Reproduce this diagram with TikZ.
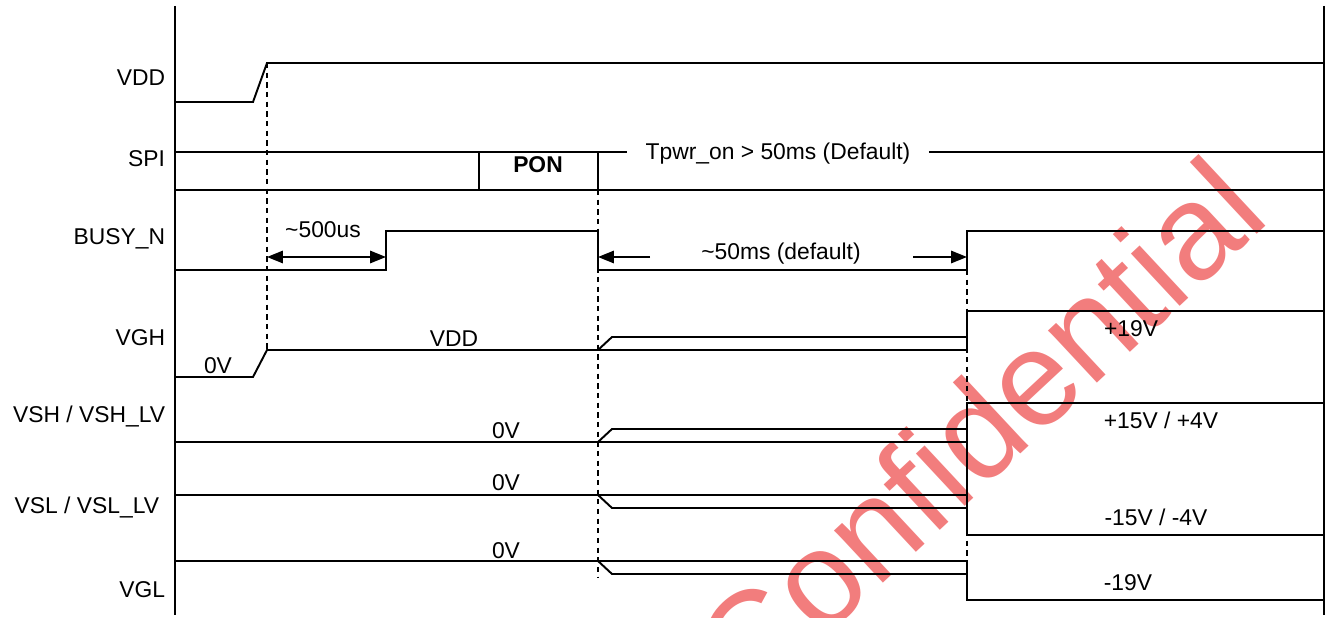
\documentclass[tikz,border=0pt]{standalone}
\usepackage{fontspec}
\setmainfont{Liberation Sans}
\usetikzlibrary{arrows.meta}
\definecolor{wm}{RGB}{242,125,125}
\begin{document}
\begin{tikzpicture}[x=0.02cm,y=-0.02cm, line width=1.1pt, line join=miter,
  dsh/.style={line width=0.9pt, dash pattern=on 3pt off 2.5pt},
  lbl/.style={font=\fontsize{13}{15}\selectfont, inner sep=0pt},
  dimarr/.style={line width=1pt, -{Triangle[length=9pt,width=7pt]}},
  wmtext/.style={font=\fontsize{77}{84}\selectfont, text=wm, inner sep=0pt}]
\useasboundingbox (0,0) rectangle (1329,618);
% watermark
\node[wmtext, rotate=43, anchor=base west] (wmk) at (749,708) {Confidential};
% axes
\draw (175,6) -- (175,615);
\draw (1324,6) -- (1324,615);
% signal names
\node[lbl, anchor=base east] (nVDD) at (166,86) {VDD};
\node[lbl, anchor=base east] (nSPI) at (166,167) {SPI};
\node[lbl, anchor=base east] (nBUSY) at (166,245) {BUSY\_N};
\node[lbl, anchor=base east] (nVGH) at (166,345) {VGH};
\node[lbl, anchor=base east] (nVSH) at (166,422) {VSH / VSH\_LV};
\node[lbl, anchor=base east] (nVSL) at (160,513) {VSL / VSL\_LV};
\node[lbl, anchor=base east] (nVGL) at (166,597) {VGL};
% VDD
\draw (175,102) -- (253,102) -- (267,63) -- (1324,63);
% SPI
\draw (175,190) -- (1324,190);
\draw (175,152) -- (479,152);
\draw (479,152) rectangle (598,190);
\node[lbl, anchor=base] (pon) at (538,173) {\bfseries PON};
\node[lbl, anchor=base, inner xsep=10pt] (tpwr) at (778,160) {Tpwr\_on > 50ms (Default)};
\draw (598,152) -- (tpwr.west |- 0,152);
\draw (tpwr.east |- 0,152) -- (1324,152);
% BUSY_N
\draw (175,270) -- (386,270) -- (386,231) -- (598,231) -- (598,270) -- (967,270) -- (967,231) -- (1324,231);
\coordinate (a1) at (267,257);
\coordinate (a2) at (386,257);
\draw[dimarr, {Triangle[length=9pt,width=7pt]}-{Triangle[length=9pt,width=7pt]}] (a1) -- (a2);
\node[lbl, anchor=base] (t500) at (323,238) {\textasciitilde500us};
\node[lbl, anchor=base] (t50) at (781,260) {\textasciitilde50ms (default)};
\coordinate (b1) at (598,257);
\coordinate (b2) at (967,257);
\draw[dimarr] (650,257) -- (b1);
\draw[dimarr] (913,257) -- (b2);
% dashed markers
\draw[dsh] (267,63) -- (267,350);
\draw[dsh] (598,190) -- (598,577);
\draw[dsh] (967,270) -- (967,560);
% VGH
\draw (175,377) -- (253,377) -- (267,350) -- (967,350) -- (967,311) -- (1324,311);
\draw (598,350) -- (612,337) -- (967,337);
\node[lbl, anchor=base] (g0) at (218,373) {0V};
\node[lbl, anchor=base] (gvdd) at (454,346) {VDD};
\node[lbl, anchor=base] (g19) at (1131,337) {+19V};
% VSH
\draw (175,442) -- (967,442) -- (967,403) -- (1324,403);
\draw (598,442) -- (612,429) -- (967,429);
\draw (967,403) -- (967,535);
\node[lbl, anchor=base] (h0) at (506,438) {0V};
\node[lbl, anchor=base] (h15) at (1161,428) {+15V / +4V};
% VSL
\draw (175,495) -- (967,495) -- (967,535) -- (1324,535);
\draw (598,495) -- (612,508) -- (967,508);
\node[lbl, anchor=base] (l0) at (506,490) {0V};
\node[lbl, anchor=base] (l15) at (1156,525) {-15V / -4V};
% VGL
\draw (175,561) -- (967,561) -- (967,600) -- (1324,600);
\draw (598,561) -- (612,574) -- (967,574);
\node[lbl, anchor=base] (v0) at (506,558) {0V};
\node[lbl, anchor=base] (v19) at (1128,590) {-19V};
\end{tikzpicture}
\end{document}
